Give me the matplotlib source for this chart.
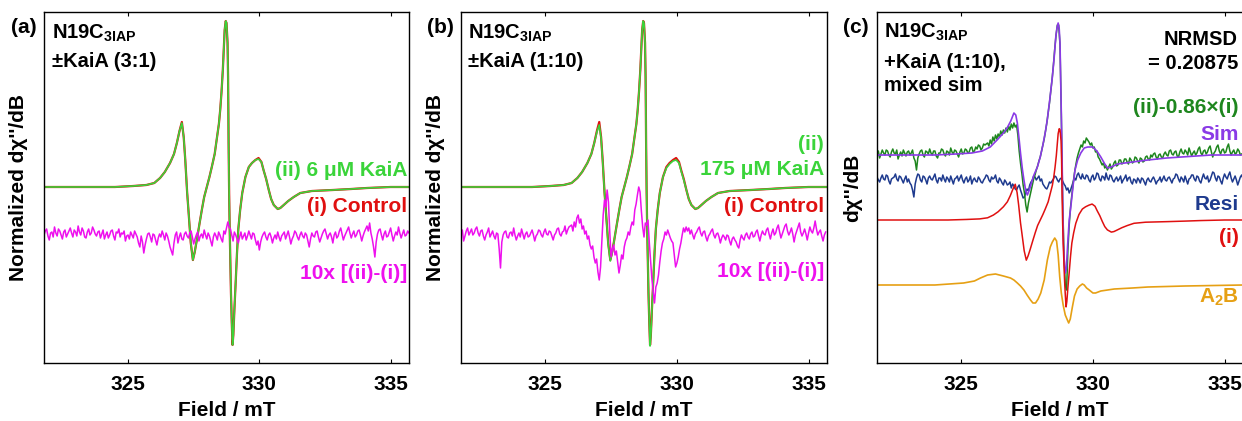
import numpy as np
import matplotlib
matplotlib.use("Agg")
import matplotlib.pyplot as plt

plt.rcParams['font.family'] = ['Liberation Sans', 'DejaVu Sans']
plt.rcParams['font.weight'] = 'bold'
plt.rcParams['mathtext.fontset'] = 'custom'
plt.rcParams['mathtext.rm'] = 'Liberation Sans:bold'
plt.rcParams['mathtext.bf'] = 'Liberation Sans:bold'
plt.rcParams['mathtext.it'] = 'Liberation Sans:bold'

# ---------------- data (field in mT, signal in a.u., baseline = 0) ----------------
field_ctrl = [321.8, 322.5, 323.5, 324.5, 325.2, 325.7, 326.0, 326.22, 326.4, 326.6,
              326.75, 326.86, 326.96, 327.05, 327.12, 327.18, 327.25, 327.3, 327.39, 327.47,
              327.54, 327.62, 327.72, 327.81, 327.9, 328.0, 328.1, 328.19, 328.3, 328.39,
              328.46, 328.51, 328.56, 328.61, 328.65, 328.68, 328.72, 328.75, 328.79, 328.81,
              328.83, 328.85, 328.87, 328.9, 328.92, 328.95, 328.98, 329.01, 329.05, 329.1,
              329.15, 329.2, 329.27, 329.35, 329.47, 329.6, 329.72, 329.85, 329.97, 330.08,
              330.16, 330.26, 330.36, 330.45, 330.55, 330.7, 330.8, 330.93, 331.1, 331.31,
              331.56, 332.0, 332.8, 333.5, 334.1, 335.0, 335.7]
control_i = [0.0, 0.0, 0.0, 0.0, 0.01, 0.02, 0.04, 0.09, 0.15, 0.24,
             0.33, 0.44, 0.56, 0.65, 0.50, 0.27, -0.05, -0.23, -0.56, -0.73,
             -0.65, -0.53, -0.37, -0.23, -0.10, 0.0, 0.10, 0.20, 0.33, 0.50,
             0.63, 0.77, 0.95, 1.17, 1.40, 1.57, 1.66, 1.64, 1.44, 1.10,
             0.44, -0.05, -0.40, -0.80, -1.06, -1.35, -1.58, -1.48, -1.23, -0.95,
             -0.66, -0.42, -0.23, -0.06, 0.10, 0.20, 0.24, 0.27, 0.29, 0.25,
             0.17, 0.08, -0.03, -0.12, -0.18, -0.22, -0.21, -0.18, -0.14, -0.10,
             -0.06, -0.04, -0.03, -0.02, -0.01, 0.0, 0.0]
kaia_6uM = [0.0, 0.0, 0.0, 0.0, 0.01, 0.02, 0.04, 0.09, 0.15, 0.24,
            0.33, 0.44, 0.56, 0.64, 0.50, 0.27, -0.05, -0.23, -0.56, -0.73,
            -0.65, -0.53, -0.37, -0.23, -0.10, 0.0, 0.10, 0.20, 0.33, 0.50,
            0.63, 0.77, 0.95, 1.17, 1.40, 1.57, 1.66, 1.64, 1.44, 1.10,
            0.44, -0.05, -0.40, -0.80, -1.06, -1.35, -1.58, -1.48, -1.23, -0.95,
            -0.66, -0.42, -0.23, -0.06, 0.10, 0.20, 0.24, 0.27, 0.28, 0.25,
            0.17, 0.08, -0.03, -0.12, -0.18, -0.22, -0.21, -0.18, -0.14, -0.10,
            -0.06, -0.04, -0.03, -0.02, -0.01, 0.0, 0.0]
kaia_175uM = [0.0, 0.0, 0.0, 0.0, 0.01, 0.02, 0.04, 0.09, 0.15, 0.24,
              0.33, 0.44, 0.55, 0.62, 0.49, 0.26, -0.06, -0.24, -0.57, -0.74,
              -0.66, -0.53, -0.37, -0.23, -0.10, 0.0, 0.10, 0.20, 0.33, 0.50,
              0.63, 0.77, 0.95, 1.17, 1.40, 1.57, 1.66, 1.64, 1.44, 1.10,
              0.44, -0.05, -0.40, -0.80, -1.06, -1.35, -1.59, -1.49, -1.23, -0.95,
              -0.66, -0.42, -0.23, -0.06, 0.10, 0.19, 0.23, 0.26, 0.27, 0.24,
              0.16, 0.07, -0.03, -0.12, -0.18, -0.22, -0.21, -0.18, -0.14, -0.10,
              -0.06, -0.04, -0.03, -0.02, -0.01, 0.0, 0.0]

# 10x difference, panel (a): start 321.8 mT, step 0.05 mT
diff_a_start, diff_a_step = 321.8, 0.05
diff_a = [0.02, 0.06, 0.08, 0.01, -0.03, 0.04, 0.05, 0.00, 0.10, 0.04, 0.01, 0.08, 0.06, 0.02, -0.02, 0.05, 0.07, 0.00, 0.03, 0.06,
          0.09, 0.04, 0.00, 0.07, 0.05, 0.01, 0.11, 0.05, 0.02, 0.09, 0.06, 0.00, -0.01, 0.05, 0.08, 0.02, 0.04, 0.10, 0.07, 0.03,
          0.01, 0.05, 0.06, -0.01, 0.03, 0.07, -0.02, 0.02, 0.05, -0.01, 0.02, 0.06, 0.07, 0.01, -0.03, 0.05, 0.04, 0.08, 0.00, 0.04,
          0.03, 0.06, -0.04, 0.01, 0.02, -0.02, 0.05, 0.02, -0.01, 0.06, 0.03, 0.00, -0.06, -0.10, 0.01, -0.05, -0.16, -0.08, -0.02, 0.03,
          0.04, 0.00, -0.05, 0.03, 0.02, -0.03, -0.08, -0.01, 0.03, 0.00, 0.06, 0.02, -0.03, 0.04, 0.01, -0.04, -0.10, -0.14, -0.18, -0.06,
          0.02, 0.05, -0.06, 0.00, 0.04, -0.02, -0.03, 0.03, 0.05, 0.01, -0.01, 0.04, 0.06, 0.00, -0.07, -0.02, 0.02, 0.05, -0.04, 0.01,
          0.03, -0.01, 0.07, 0.02, -0.02, 0.04, 0.01, -0.04, -0.09, 0.00, 0.04, 0.01, -0.03, 0.05, 0.02, -0.02, -0.05, 0.06, 0.03, 0.09,
          0.15, 0.10, 0.08, 0.02, -0.04, 0.05, 0.02, -0.02, -0.06, 0.00, 0.05, -0.02, 0.01, 0.04, -0.03, 0.01, 0.06, 0.02, -0.02, 0.04,
          0.03, -0.03, -0.08, -0.04, -0.13, -0.05, 0.00, 0.03, 0.05, 0.00, -0.03, 0.02, 0.04, 0.00, -0.06, -0.01, 0.02, -0.02, 0.05, 0.00,
          -0.04, 0.01, 0.03, 0.05, -0.02, 0.02, 0.06, 0.00, -0.07, -0.02, 0.01, 0.06, 0.04, 0.00, -0.03, 0.02, 0.05, 0.01, -0.01, 0.04,
          0.02, -0.04, -0.10, -0.02, 0.04, 0.01, 0.00, 0.05, 0.06, 0.00, -0.05, -0.01, 0.03, 0.06, 0.08, 0.03, -0.02, 0.02, 0.04, 0.00,
          -0.06, 0.02, 0.05, -0.01, 0.01, 0.06, 0.09, 0.03, -0.03, 0.01, 0.04, 0.07, 0.10, 0.04, -0.01, 0.03, 0.06, 0.00, 0.02, 0.06,
          0.07, 0.02, -0.04, 0.01, 0.05, 0.08, 0.11, 0.06, 0.14, 0.04, -0.02, -0.10, -0.20, -0.05, 0.03, 0.07, 0.08, 0.02, -0.03, 0.03,
          0.06, 0.00, 0.01, 0.05, 0.09, 0.02, -0.04, 0.01, 0.05, 0.02, 0.10, 0.04, -0.01, 0.03, 0.07, 0.01, 0.02, 0.06, 0.04]

# 10x difference, panel (b): three sampled segments
diff_b_left_start, diff_b_left_step = 321.8, 0.05
diff_b_left = [0.03, 0.07, -0.04, 0.01, 0.06, 0.09, 0.02, 0.05, 0.08, 0.02, 0.04, 0.08, 0.10, 0.04, 0.01, 0.06, 0.07, 0.01, -0.03, 0.02,
               0.05, 0.09, 0.00, 0.03, 0.06, 0.01, -0.02, 0.04, 0.03, -0.12, -0.31, -0.05, 0.02, 0.05, 0.06, 0.00, -0.01, 0.04, 0.05, 0.01,
               0.09, 0.02, -0.03, 0.01, 0.04, 0.00, 0.08, 0.03, -0.02, 0.03, 0.05, 0.00, 0.01, 0.04, 0.07, 0.02, -0.04, 0.01, 0.03, 0.07,
               0.06, 0.02, 0.00, 0.05, 0.08, 0.03, 0.02, 0.06, 0.05, 0.01, -0.03, 0.02, 0.04, 0.08, 0.09, 0.03, 0.01, 0.05, 0.06, 0.11,
               0.03, 0.07, 0.10]
diff_b_mid_start, diff_b_mid_step = 326.0, 0.05
diff_b_mid = [0.12, 0.06, 0.15, 0.10, 0.19, 0.22, 0.14, 0.18, 0.08, 0.11,
              0.03, 0.06, -0.02, 0.01, -0.08, -0.12, -0.09, -0.20, -0.26, -0.22,
              -0.35, -0.43, -0.30, -0.05, 0.22, 0.37, 0.30, 0.47, 0.35, 0.05,
              -0.20, -0.12, -0.08, -0.18, -0.14, -0.25, -0.36, -0.28, -0.18, -0.22,
              -0.10, -0.04, -0.01, 0.05, 0.02, 0.10, 0.15, 0.12, 0.27, 0.33,
              0.42, 0.50, 0.45, 0.26, 0.10, 0.00, 0.14, 0.12, 0.17, -0.05,
              -0.23, -0.42, -0.55, -0.66, -0.50, -0.46, -0.38, -0.25, -0.14, -0.06,
              -0.02, 0.05, 0.02, 0.07, 0.03, -0.01, -0.04, -0.06, -0.18, -0.30,
              -0.26, -0.20, -0.12, -0.06, 0.02, 0.09, 0.05, 0.10, 0.06, 0.09,
              0.03]
diff_b_right_start, diff_b_right_step = 330.55, 0.05
diff_b_right = [0.07, 0.02, -0.02, 0.03, 0.05, 0.08, 0.10, 0.04, 0.01, 0.05, 0.06, 0.00, -0.04, 0.01, 0.03, 0.06, 0.08, 0.02, -0.01, 0.03,
                0.04, 0.00, -0.06, -0.01, 0.02, 0.00, -0.03, 0.02, 0.01, -0.04, -0.08, -0.02, 0.00, -0.03, -0.05, -0.09, -0.11, -0.03, 0.02, -0.01,
                -0.03, 0.02, 0.04, 0.00, -0.02, 0.03, 0.05, 0.00, 0.01, 0.05, 0.07, 0.01, -0.04, 0.02, 0.06, 0.03, 0.02, 0.07, 0.09, 0.03,
                -0.02, 0.04, 0.08, 0.02, 0.04, 0.09, 0.12, 0.05, -0.01, 0.03, 0.07, 0.11, 0.13, 0.06, 0.02, 0.05, 0.09, 0.03, -0.05, 0.02,
                0.06, 0.10, 0.14, 0.05, 0.01, 0.04, 0.08, 0.03, -0.03, 0.04, 0.10, 0.06, 0.04, 0.09, 0.16, 0.08, 0.02, 0.05, 0.07, 0.01,
                -0.04, 0.02, 0.05]

# panel (c): (ii)-0.86x(i), three sampled segments
exp_c_left_start, exp_c_left_step = 321.8, 0.05
exp_c_left = [0.02, 0.04, -0.03, 0.01, 0.05, 0.02, 0.00, 0.05, 0.04, 0.00, -0.02, 0.03, 0.06, 0.02, 0.01, 0.05, -0.04, 0.00, 0.03, -0.01,
              0.05, 0.02, -0.01, 0.03, 0.04, 0.00, 0.02, 0.05, -0.03, -0.06, -0.15, -0.03, 0.01, 0.04, 0.05, 0.00, -0.02, 0.04, 0.03, 0.01,
              0.06, 0.02, 0.00, 0.04, 0.04, -0.01, -0.03, 0.02, 0.02, 0.06, 0.05, 0.01, -0.01, 0.04, 0.03, 0.00, 0.07, 0.03, 0.01, 0.05,
              0.04, 0.01, -0.02, 0.03, 0.06, 0.01, 0.02, 0.06, 0.05, 0.02, 0.03, 0.07, 0.08, 0.03, 0.04, 0.08, 0.06, 0.10, 0.09, 0.05,
              0.07, 0.11, 0.10]
exp_c_mid_start, exp_c_mid_step = 326.0, 0.05
exp_c_mid = [0.12, 0.09, 0.15, 0.11, 0.18, 0.14, 0.20, 0.16, 0.21, 0.18,
             0.24, 0.20, 0.25, 0.22, 0.27, 0.23, 0.29, 0.25, 0.31, 0.27,
             0.32, 0.28, 0.30, 0.20, 0.04, -0.08, -0.18, -0.30, -0.38, -0.50,
             -0.57, -0.48, -0.42, -0.36, -0.30, -0.24, -0.20, -0.15, -0.11, -0.06,
             -0.02, 0.04, 0.10, 0.16, 0.24, 0.32, 0.42, 0.52, 0.64, 0.76,
             0.90, 1.06, 1.20, 1.30, 1.30, 1.10, 0.40, -0.45, -0.98, -1.30,
             -1.35, -0.95, -0.70, -0.52, -0.40, -0.28, -0.18, -0.10, -0.03, 0.02,
             0.06, 0.10, 0.08, 0.14, 0.12, 0.17, 0.15, 0.13, 0.10, 0.12,
             0.07, 0.08, 0.03, 0.04, -0.02, -0.04, -0.07, -0.10, -0.08, -0.13,
             -0.11, -0.15, -0.12]
exp_c_right_start, exp_c_right_step = 330.65, 0.05
exp_c_right = [-0.09, -0.14, -0.12, -0.08, -0.06, -0.11, -0.10, -0.05, -0.05, -0.09, -0.08, -0.04, -0.04, -0.07, -0.09, -0.03, -0.05, -0.08, -0.07, -0.02,
               -0.03, -0.06, -0.08, -0.03, -0.04, -0.07, -0.06, -0.02, -0.01, -0.04, -0.05, 0.00, -0.02, 0.01, 0.02, -0.02, -0.04, 0.00, 0.01, -0.02,
               -0.03, 0.01, 0.03, 0.00, -0.01, 0.04, 0.05, 0.01, 0.00, 0.03, 0.04, -0.01, -0.02, 0.03, 0.06, 0.02, 0.01, 0.05, 0.03, 0.00,
               0.07, 0.03, -0.01, 0.02, 0.04, 0.00, 0.02, 0.06, 0.08, 0.02, 0.00, 0.04, 0.05, 0.01, 0.03, 0.07, 0.09, 0.03, -0.02, 0.02,
               0.04, 0.08, 0.10, 0.04, 0.01, 0.05, 0.06, 0.02, 0.03, 0.08, 0.11, 0.04, 0.00, 0.03, 0.05, 0.01, 0.02, 0.06, 0.04, 0.00,
               0.01]

# panel (c): simulation
field_sim = [321.8, 323.0, 324.0, 324.8, 325.4, 325.8, 326.1, 326.36, 326.6, 326.74,
             326.88, 327.0, 327.07, 327.13, 327.2, 327.25, 327.32, 327.38, 327.45, 327.51,
             327.6, 327.7, 327.76, 327.89, 328.0, 328.1, 328.2, 328.27, 328.36, 328.46,
             328.53, 328.59, 328.64, 328.68, 328.72, 328.75, 328.78, 328.82, 328.85, 328.88,
             328.92, 328.95, 328.99, 329.04, 329.1, 329.16, 329.25, 329.32, 329.42, 329.54,
             329.67, 329.8, 329.99, 330.15, 330.3, 330.45, 330.56, 330.7, 330.94, 331.5,
             332.09, 332.8, 333.36, 334.5, 335.7]
sim = [0.0, 0.0, 0.0, 0.01, 0.02, 0.04, 0.08, 0.15, 0.22, 0.27,
       0.34, 0.42, 0.40, 0.32, 0.15, 0.02, -0.14, -0.25, -0.36, -0.40,
       -0.34, -0.25, -0.20, -0.12, -0.02, 0.10, 0.24, 0.36, 0.55, 0.78,
       0.98, 1.18, 1.28, 1.32, 1.26, 1.12, 0.70, 0.12, -0.40, -0.88,
       -1.10, -1.18, -1.14, -0.90, -0.65, -0.52, -0.30, -0.15, -0.05, 0.02,
       0.07, 0.08, 0.08, 0.04, -0.02, -0.09, -0.13, -0.12, -0.09, -0.07,
       -0.05, -0.03, -0.02, 0.0, 0.0]

# panel (c): residual, start 321.8 mT, step 0.05 mT
resi_start, resi_step = 321.8, 0.05
resi = [0.03, 0.00, -0.02, 0.02, 0.05, 0.01, 0.00, 0.05, 0.04, -0.01, -0.04, 0.01, 0.02, 0.03, 0.06, 0.01, -0.01, 0.04, 0.03, 0.00,
        -0.03, 0.01, 0.04, -0.02, 0.01, -0.03, -0.05, -0.10, -0.17, -0.04, 0.02, 0.06, 0.05, 0.00, -0.02, 0.04, 0.03, 0.00, -0.04, 0.02,
        0.04, 0.01, 0.00, 0.03, 0.06, 0.00, -0.03, 0.02, 0.02, -0.01, 0.05, 0.01, -0.02, 0.03, 0.01, -0.02, 0.04, 0.00, -0.04, 0.01,
        0.02, 0.04, -0.01, 0.02, 0.05, 0.00, -0.03, 0.01, 0.03, -0.02, 0.00, 0.04, -0.04, 0.00, 0.02, -0.01, -0.02, 0.03, 0.01, -0.02,
        -0.03, 0.00, 0.02, 0.05, 0.04, 0.00, -0.02, 0.03, 0.01, 0.02, 0.05, -0.01, -0.03, 0.02, 0.00, -0.03, -0.05, 0.00, -0.02, -0.05,
        -0.04, -0.02, -0.08, -0.04, -0.06, -0.09, -0.10, -0.07, -0.05, -0.10, -0.14, -0.18, -0.17, -0.12, -0.09, -0.11, -0.05, -0.02, 0.00, 0.04,
        0.03, 0.00, 0.02, 0.04, -0.01, 0.01, -0.04, -0.06, -0.08, -0.09, -0.06, -0.02, -0.03, -0.01, 0.01, 0.04, 0.03, 0.00, -0.02, 0.01,
        0.02, -0.01, -0.04, -0.06, -0.10, -0.08, -0.13, -0.10, -0.06, -0.02, 0.02, 0.00, 0.05, 0.07, 0.03, 0.01, 0.06, 0.02, 0.01, 0.05,
        0.04, 0.00, -0.02, 0.03, 0.05, 0.00, 0.02, 0.07, 0.06, 0.01, -0.01, 0.04, 0.03, 0.00, 0.07, 0.02, 0.00, 0.05, 0.04, 0.00,
        -0.02, 0.01, 0.03, -0.01, 0.01, 0.04, -0.03, 0.00, 0.02, 0.05, -0.01, 0.02, 0.03, -0.02, -0.04, 0.01, 0.00, -0.03, 0.02, 0.00,
        -0.03, 0.02, 0.01, -0.02, -0.05, 0.00, 0.02, -0.01, -0.02, 0.01, 0.03, 0.00, -0.04, -0.01, 0.00, 0.03, -0.02, 0.01, 0.04, 0.00,
        -0.01, 0.02, 0.03, 0.00, -0.03, 0.01, 0.02, 0.06, 0.05, 0.01, -0.02, 0.03, 0.01, -0.02, 0.04, 0.00, -0.04, 0.01, 0.02, 0.05,
        0.05, 0.01, -0.01, 0.04, 0.03, -0.01, -0.03, 0.02, 0.06, 0.02, 0.01, 0.04, -0.02, 0.00, 0.04, 0.08, 0.07, 0.02, -0.01, 0.04,
        0.03, -0.01, -0.04, 0.02, 0.06, 0.03, 0.01, 0.05, 0.08, 0.02, -0.02, 0.01, 0.04, 0.00, -0.05, -0.01, 0.03, 0.05, 0.01]

# panel (c): A2B component
field_a2b = [321.8, 324.0, 325.09, 325.5, 325.73, 326.0, 326.3, 326.6, 326.87, 327.0,
             327.13, 327.25, 327.38, 327.5, 327.63, 327.72, 327.82, 327.92, 328.02, 328.15,
             328.27, 328.38, 328.46, 328.55, 328.62, 328.68, 328.74, 328.8, 328.87, 328.95,
             329.03, 329.08, 329.14, 329.22, 329.3, 329.4, 329.5, 329.6, 329.67, 329.76,
             329.86, 330.0, 330.1, 330.3, 330.81, 331.5, 332.09, 333.5, 335.7]
a2b = [0.0, 0.0, 0.02, 0.04, 0.07, 0.10, 0.11, 0.09, 0.07, 0.05,
       0.02, -0.01, -0.05, -0.10, -0.15, -0.18, -0.18, -0.14, -0.08, 0.05,
       0.25, 0.38, 0.43, 0.47, 0.44, 0.30, 0.08, -0.08, -0.20, -0.30,
       -0.35, -0.38, -0.34, -0.22, -0.11, -0.04, -0.01, 0.01, 0.00, -0.03,
       -0.05, -0.08, -0.08, -0.06, -0.04, -0.03, -0.02, -0.01, 0.0]

x_ticks = [325, 330, 335]

# ---------------- styling ----------------
C_GREEN = '#3ad43a'
C_RED = '#e01010'
C_MAG = '#ee10ee'
C_DGREEN = '#1e861e'
C_PURPLE = '#8a3ae6'
C_NAVY = '#1e3a8e'
C_ORANGE = '#e6a014'

W, H = 1242, 421
fig = plt.figure(figsize=(W / 100, H / 100), dpi=100)
AX_TOP, AX_BOT = 12, 363


def make_ax(left, right):
    ax = fig.add_axes([left / W, (H - AX_BOT) / H, (right - left) / W, (AX_BOT - AX_TOP) / H])
    ax.set_xlim(321.8, 335.7)
    ax.set_ylim(0, 3.51)
    ax.set_xticks(x_ticks)
    ax.set_yticks([])
    ax.tick_params(axis='x', direction='in', top=True, length=3, width=0.8,
                   labelsize=15, pad=9)
    for s in ax.spines.values():
        s.set_linewidth(1.0)
    ax.set_xlabel('Field / mT', fontsize=15, fontweight='bold', labelpad=5)
    return ax


def seg(start, step, vals):
    return start + step * np.arange(len(vals)), np.asarray(vals)


def joined(*parts):
    xs, ys = zip(*[seg(*p) for p in parts])
    return np.concatenate(xs), np.concatenate(ys)


FS = 15
# ---------------- panel (a) ----------------
axa = make_ax(44, 409)
off_spec, off_diff = 1.76, 1.26
axa.plot(field_ctrl, np.asarray(control_i) + off_spec, color=C_RED, lw=1.6)
axa.plot(field_ctrl, np.asarray(kaia_6uM) + off_spec, color=C_GREEN, lw=1.2)
xa, ya = seg(diff_a_start, diff_a_step, diff_a)
axa.plot(xa, ya + off_diff, color=C_MAG, lw=1.1)
axa.set_ylabel("Normalized d\u03c7''/dB", fontsize=FS, fontweight='bold')
axa.yaxis.set_label_coords(-0.044, 0.5)
axa.text(0.022, 0.923, r"N19C$_{\mathbf{3IAP}}$", transform=axa.transAxes, fontsize=14.5, va='baseline')
axa.text(0.022, 0.843, "\u00b1KaiA (3:1)", transform=axa.transAxes, fontsize=14.5, va='baseline')
axa.text(0.995, 0.533, "(ii) 6 \u03bcM KaiA", transform=axa.transAxes, fontsize=FS, color=C_GREEN, ha='right', va='baseline')
axa.text(0.995, 0.430, "(i) Control", transform=axa.transAxes, fontsize=FS, color=C_RED, ha='right', va='baseline')
axa.text(0.995, 0.239, "10x [(ii)-(i)]", transform=axa.transAxes, fontsize=FS, color=C_MAG, ha='right', va='baseline')
fig.text(11 / W, 1 - 33 / H, "(a)", fontsize=FS, va='baseline')

# ---------------- panel (b) ----------------
axb = make_ax(461, 827)
axb.plot(field_ctrl, np.asarray(control_i) + off_spec, color=C_RED, lw=1.6)
axb.plot(field_ctrl, np.asarray(kaia_175uM) + off_spec, color=C_GREEN, lw=1.2)
xb, yb = joined((diff_b_left_start, diff_b_left_step, diff_b_left),
                (diff_b_mid_start, diff_b_mid_step, diff_b_mid),
                (diff_b_right_start, diff_b_right_step, diff_b_right))
axb.plot(xb, yb + off_diff, color=C_MAG, lw=1.1)
axb.set_ylabel("Normalized d\u03c7''/dB", fontsize=FS, fontweight='bold')
axb.yaxis.set_label_coords(-0.044, 0.5)
axb.text(0.02, 0.923, r"N19C$_{\mathbf{3IAP}}$", transform=axb.transAxes, fontsize=14.5, va='baseline')
axb.text(0.02, 0.843, "\u00b1KaiA (1:10)", transform=axb.transAxes, fontsize=14.5, va='baseline')
axb.text(0.992, 0.607, "(ii)", transform=axb.transAxes, fontsize=FS, color=C_GREEN, ha='right', va='baseline')
axb.text(0.992, 0.536, "175 \u03bcM KaiA", transform=axb.transAxes, fontsize=FS, color=C_GREEN, ha='right', va='baseline')
axb.text(0.992, 0.430, "(i) Control", transform=axb.transAxes, fontsize=FS, color=C_RED, ha='right', va='baseline')
axb.text(0.992, 0.245, "10x [(ii)-(i)]", transform=axb.transAxes, fontsize=FS, color=C_MAG, ha='right', va='baseline')
fig.text(427 / W, 1 - 33 / H, "(b)", fontsize=FS, va='baseline')

# ---------------- panel (c) ----------------
axc = make_ax(877, 1243)
off_exp, off_resi, off_ctrl, off_a2b = 2.08, 1.83, 1.43, 0.78
ctrl_scale_c = 0.55
axc.plot(field_a2b, np.asarray(a2b) + off_a2b, color=C_ORANGE, lw=1.2)
xr, yr = seg(resi_start, resi_step, resi)
axc.plot(xr, yr + off_resi, color=C_NAVY, lw=1.1)
xe, ye = joined((exp_c_left_start, exp_c_left_step, exp_c_left),
                (exp_c_mid_start, exp_c_mid_step, exp_c_mid),
                (exp_c_right_start, exp_c_right_step, exp_c_right))
axc.plot(xe, ye + off_exp, color=C_DGREEN, lw=1.1)
axc.plot(field_sim, np.asarray(sim) + off_exp, color=C_PURPLE, lw=1.2)
axc.plot(field_ctrl, ctrl_scale_c * np.asarray(control_i) + off_ctrl, color=C_RED, lw=1.1)
axc.set_ylabel("d\u03c7''/dB", fontsize=FS, fontweight='bold')
axc.yaxis.set_label_coords(-0.041, 0.5)
axc.text(0.019, 0.926, r"N19C$_{\mathbf{3IAP}}$", transform=axc.transAxes, fontsize=14.5, va='baseline')
axc.text(0.019, 0.840, "+KaiA (1:10),", transform=axc.transAxes, fontsize=14.5, va='baseline')
axc.text(0.019, 0.775, "mixed sim", transform=axc.transAxes, fontsize=14.5, va='baseline')
axc.text(0.986, 0.906, "NRMSD", transform=axc.transAxes, fontsize=14.5, ha='right', va='baseline')
axc.text(0.986, 0.838, "= 0.20875", transform=axc.transAxes, fontsize=14.5, ha='right', va='baseline')
axc.text(0.988, 0.712, "(ii)-0.86\u00d7(i)", transform=axc.transAxes, fontsize=FS, color=C_DGREEN, ha='right', va='baseline')
axc.text(0.988, 0.635, "Sim", transform=axc.transAxes, fontsize=FS, color=C_PURPLE, ha='right', va='baseline')
axc.text(0.988, 0.436, "Resi", transform=axc.transAxes, fontsize=FS, color=C_NAVY, ha='right', va='baseline')
axc.text(0.988, 0.342, "(i)", transform=axc.transAxes, fontsize=FS, color=C_RED, ha='right', va='baseline')
axc.text(0.990, 0.171, r"A$_{\mathbf{2}}$B", transform=axc.transAxes, fontsize=FS, color=C_ORANGE, ha='right', va='baseline')
fig.text(843 / W, 1 - 33 / H, "(c)", fontsize=FS, va='baseline')

fig.savefig("out.png", dpi=100)
